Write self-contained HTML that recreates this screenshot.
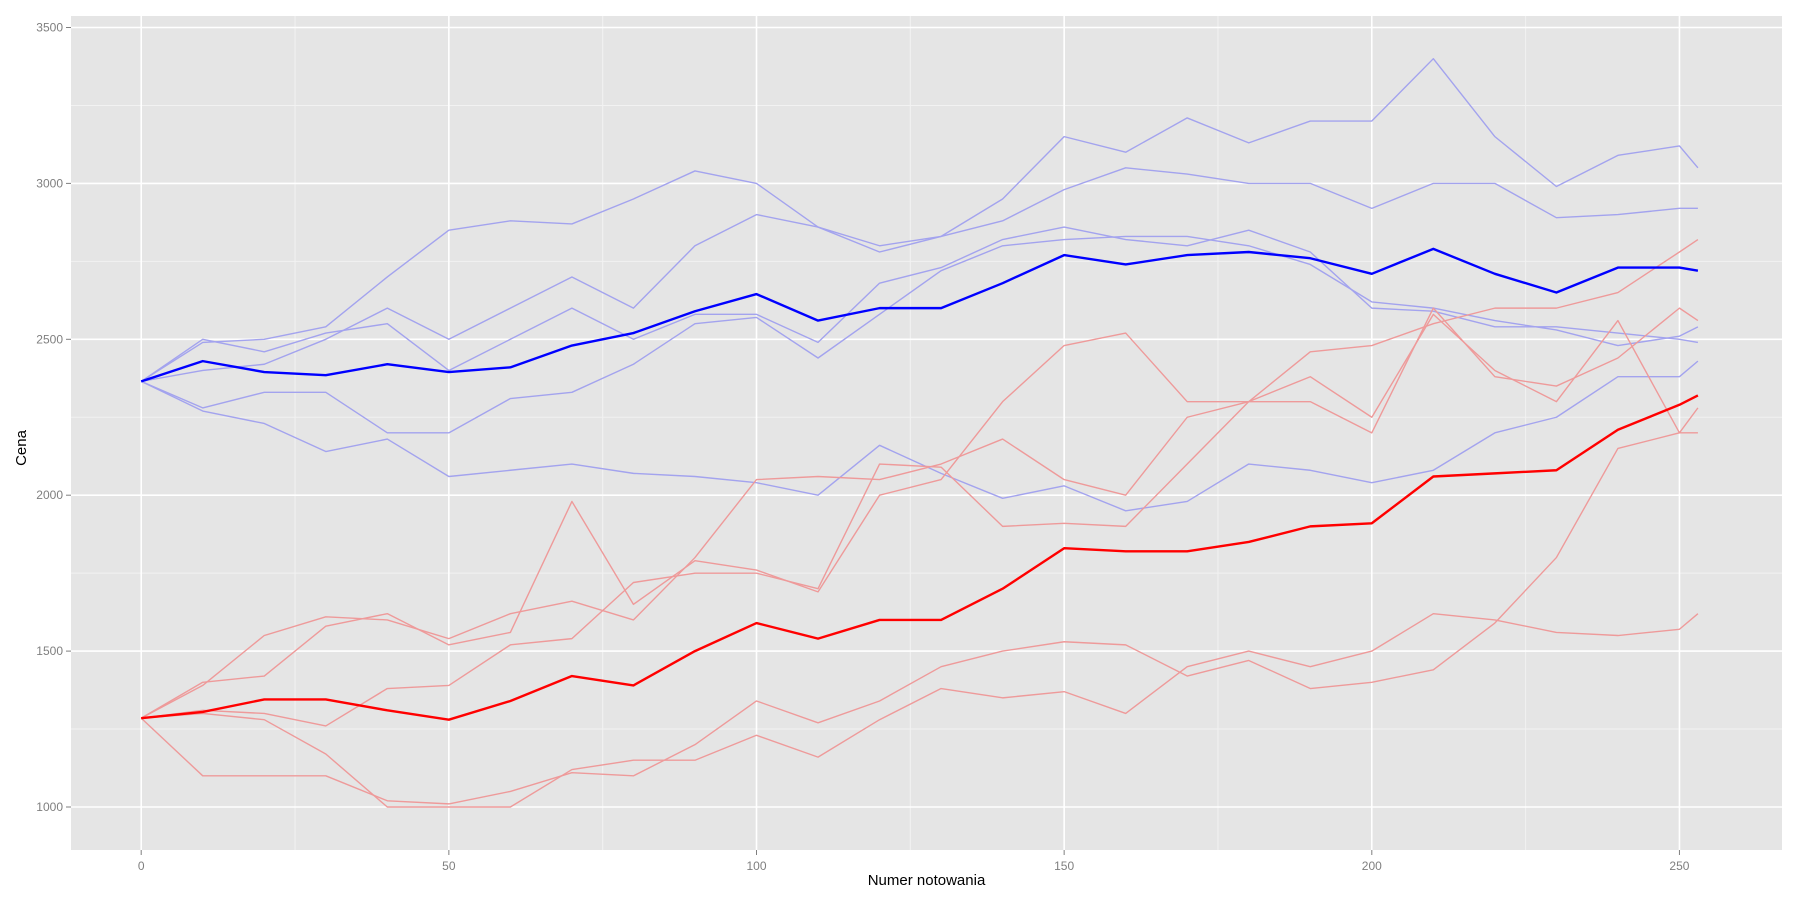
<!DOCTYPE html>
<html><head><meta charset="utf-8"><style>
html,body{margin:0;padding:0;background:#fff;}
svg{display:block;font-family:"Liberation Sans",sans-serif;}
</style></head><body>
<svg id="chart" width="1800" height="900" xmlns="http://www.w3.org/2000/svg"></svg>
<script>
const steps = [0,10,20,30,40,50,60,70,80,90,100,110,120,130,140,150,160,170,180,190,200,210,220,230,240,250,253];
const xTicks = [0,50,100,150,200,250];
const yTicks = [1000,1500,2000,2500,3000,3500];
const blueMean = [2365,2430,2395,2385,2420,2395,2410,2480,2520,2590,2645,2560,2600,2600,2680,2770,2740,2770,2780,2760,2710,2790,2710,2650,2730,2730,2720];
const redMean = [1285,1305,1345,1345,1310,1280,1340,1420,1390,1500,1590,1540,1600,1600,1700,1830,1820,1820,1850,1900,1910,2060,2070,2080,2210,2290,2320];
const blue1 = [2365,2490,2500,2540,2700,2850,2880,2870,2950,3040,3000,2860,2800,2830,2950,3150,3100,3210,3130,3200,3200,3400,3150,2990,3090,3120,3050];
const blue2 = [2365,2400,2420,2500,2600,2500,2600,2700,2600,2800,2900,2860,2780,2830,2880,2980,3050,3030,3000,3000,2920,3000,3000,2890,2900,2920,2920];
const blue3 = [2365,2500,2460,2520,2550,2400,2500,2600,2500,2580,2580,2490,2680,2730,2820,2860,2820,2800,2850,2780,2600,2590,2540,2540,2520,2500,2490];
const blue4 = [2365,2270,2230,2140,2180,2060,2080,2100,2070,2060,2040,2000,2160,2070,1990,2030,1950,1980,2100,2080,2040,2080,2200,2250,2380,2380,2430];
const blue5 = [2365,2280,2330,2330,2200,2200,2310,2330,2420,2550,2570,2440,2580,2720,2800,2820,2830,2830,2800,2740,2620,2600,2560,2530,2480,2510,2540];
const red1 = [1285,1400,1420,1580,1620,1520,1560,1980,1650,1790,1760,1690,2000,2050,2300,2480,2520,2300,2300,2460,2480,2550,2600,2600,2650,2780,2820];
const red2 = [1285,1390,1550,1610,1600,1540,1620,1660,1600,1800,2050,2060,2050,2100,2180,2050,2000,2250,2300,2300,2200,2600,2380,2350,2440,2600,2560];
const red3 = [1285,1310,1300,1260,1380,1390,1520,1540,1720,1750,1750,1700,2100,2090,1900,1910,1900,2100,2300,2380,2250,2580,2400,2300,2560,2200,2280];
const red4 = [1285,1100,1100,1100,1020,1010,1050,1110,1100,1200,1340,1270,1340,1450,1500,1530,1520,1420,1470,1380,1400,1440,1590,1800,2150,2200,2200];
const red5 = [1285,1300,1280,1170,1000,1000,1000,1120,1150,1150,1230,1160,1280,1380,1350,1370,1300,1450,1500,1450,1500,1620,1600,1560,1550,1570,1620];

const NS='http://www.w3.org/2000/svg';
const svg=document.getElementById('chart');
const L=71,R=1782,T=16,B=850;
const X=v=>141.2+v*6.153;
const Y=v=>807-(v-1000)*0.3118;
function mk(tag,at){const e=document.createElementNS(NS,tag);for(const k in at)e.setAttribute(k,at[k]);svg.appendChild(e);return e;}

const bg=mk('rect',{x:L,y:T,width:R-L,height:B-T,fill:'#E5E5E5'});


// minor grid
for(let v=25;v<=275;v+=50){const g=mk('line',{x1:X(v),x2:X(v),y1:T,y2:B,stroke:'#F2F2F2','stroke-width':1});

}
for(let v=1250;v<=3250;v+=500){const g=mk('line',{x1:L,x2:R,y1:Y(v),y2:Y(v),stroke:'#F2F2F2','stroke-width':1});

}
xTicks.forEach(v=>{const g=mk('line',{x1:X(v),x2:X(v),y1:T,y2:B,stroke:'#fff','stroke-width':1.6});


const t=mk('line',{x1:X(v),x2:X(v),y1:B,y2:B+5,stroke:'#7F7F7F','stroke-width':1});


const l=mk('text',{x:X(v),y:B+20,'text-anchor':'middle','font-size':12,fill:'#7F7F7F'});l.textContent=v;

});
yTicks.forEach(v=>{const g=mk('line',{x1:L,x2:R,y1:Y(v),y2:Y(v),stroke:'#fff','stroke-width':1.6});


const t=mk('line',{x1:L-5,x2:L,y1:Y(v),y2:Y(v),stroke:'#7F7F7F','stroke-width':1});


const l=mk('text',{x:L-8,y:Y(v)+4,'text-anchor':'end','font-size':12,fill:'#7F7F7F'});l.textContent=v;

});

function line(arr,color,w,name){
  const p=mk('polyline',{points:arr.map((v,i)=>X(steps[i])+','+Y(v)).join(' '),fill:'none',stroke:color,'stroke-width':w,'stroke-linejoin':'round'});
  
  
}
[blue1,blue2,blue3,blue4,blue5].forEach((a,i)=>line(a,'#A3A3EE',1.4,'blue-series-'+(i+1)));
[red1,red2,red3,red4,red5].forEach((a,i)=>line(a,'#EE9A9A',1.4,'red-series-'+(i+1)));
line(blueMean,'#0000FF',2.4,'blue-mean-line');
line(redMean,'#FF0000',2.4,'red-mean-line');

const xt=mk('text',{x:(L+R)/2,y:885,'text-anchor':'middle','font-size':15,fill:'#000'});xt.textContent='Numer notowania';


const yt=mk('text',{x:0,y:0,'text-anchor':'middle','font-size':15,fill:'#000',transform:'translate(26,448) rotate(-90)'});yt.textContent='Cena';


</script>
</body></html>
